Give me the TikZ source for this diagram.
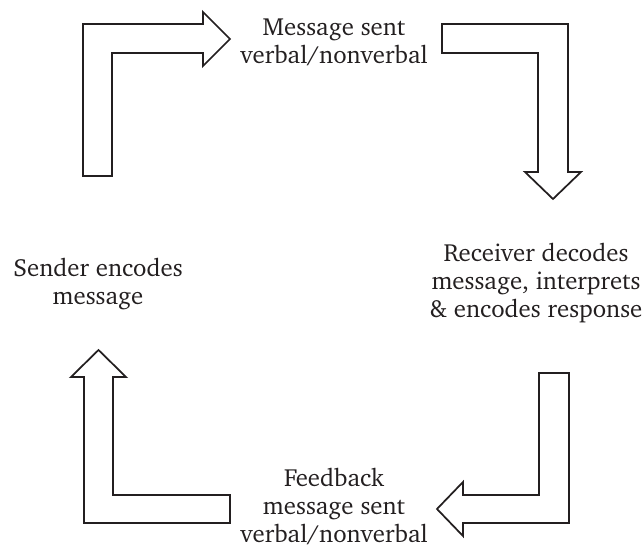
\documentclass[tikz,border=0pt]{standalone}
\usepackage[T1]{fontenc}
\renewcommand{\rmdefault}{bch}
\definecolor{ink}{HTML}{231F20}
\begin{document}
\begin{tikzpicture}[x=0.75pt,y=-0.75pt,
  blockarrow/.style={draw=ink,line width=1.3pt,fill=white,line join=miter},
  lbl/.style={align=center,inner sep=0pt,anchor=base,text=ink,font=\fontsize{18.6}{21}\selectfont}]
\useasboundingbox (0,0) rectangle (644,545);
% top-left arrow (up then right)
\draw[blockarrow] (83,176) -- (83,24) -- (203,24) -- (203,12) -- (230,39) -- (203,66) -- (203,53) -- (112,53) -- (112,176) -- cycle;
% top-right arrow (right then down)
\draw[blockarrow] (442,24) -- (568,24) -- (568,172) -- (581,172) -- (553,199) -- (525,172) -- (538,172) -- (538,53) -- (442,53) -- cycle;
% bottom-right arrow (down then left)
\draw[blockarrow] (539,373) -- (569,373) -- (569,523) -- (463,523) -- (463,536) -- (437,509) -- (463,482) -- (463,495) -- (539,495) -- cycle;
% bottom-left arrow (left then up)
\draw[blockarrow] (230,523) -- (84,523) -- (84,377) -- (71,377) -- (98.5,350) -- (126,377) -- (113,377) -- (113,495) -- (230,495) -- cycle;
% labels (anchored at the baseline of the last line)
\node[lbl] (sent) at (334,64) {Message sent\\verbal/nonverbal};
\node[lbl] (recv) at (536,318) {Receiver decodes\\message, interprets\\\&~encodes response};
\node[lbl] (send) at (98,305) {Sender encodes\\message};
\node[lbl] (feed) at (334,543) {Feedback\\message sent\\verbal/nonverbal};
\end{tikzpicture}
\end{document}
